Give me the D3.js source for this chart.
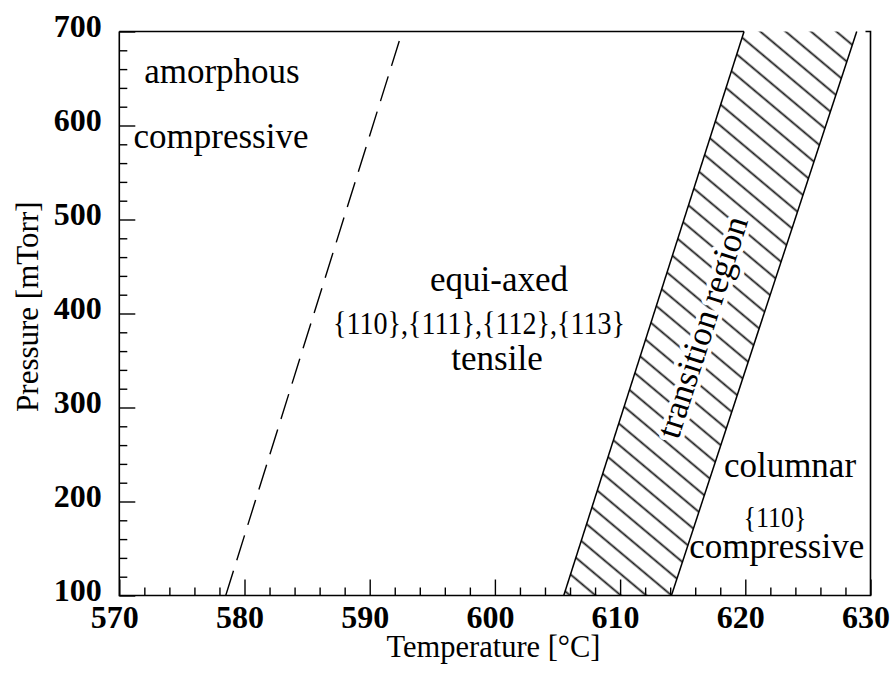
<!DOCTYPE html>
<html>
<head>
<meta charset="utf-8">
<script src="https://cdn.jsdelivr.net/npm/d3@7"></script>
<style>
  body { margin: 0; background: #fff; }
  svg { display: block; }
  text { font-family: "Liberation Serif", "Times New Roman", serif; fill: #000; }
</style>
</head>
<body>
<svg id="chart" width="891" height="691"></svg>
<script>
// Axis ranges and ticks
const temperatureDomain = [570, 630];
const pressureDomain = [100, 700];
const xMajorTicks = [570, 580, 590, 600, 610, 620, 630];
const xMinorTicks = [572, 574, 576, 578, 582, 584, 586, 588, 592, 594, 596, 598,
                     602, 604, 606, 608, 612, 614, 616, 618, 622, 624, 626, 628];
const yMajorTicks = [100, 200, 300, 400, 500, 600, 700];
const yMinorTicks = [120, 140, 160, 180, 220, 240, 260, 280, 320, 340, 360, 380,
                     420, 440, 460, 480, 520, 540, 560, 580, 620, 640, 660, 680];

// Phase boundaries (temperature in °C, pressure in mTorr)
const amorphousBoundary = [{ t: 578.5, p: 100 }, { t: 592.6, p: 700 }];
const transitionLow = [{ t: 605.5, p: 100 }, { t: 619.9, p: 700 }];
const transitionHigh = [{ t: 614.1, p: 100 }, { t: 628.9, p: 700 }];

// Region annotations
const amorphousText = ["amorphous", "compressive"];
const equiaxedText = ["equi-axed", "{110},{111},{112},{113}", "tensile"];
const columnarText = ["columnar", "{110}", "compressive"];
const transitionText = "transition region";

const svg = d3.select("#chart");
const x = d3.scaleLinear().domain(temperatureDomain).range([119.3, 870.5]);
const y = d3.scaleLinear().domain(pressureDomain).range([595.5, 31.5]);
const line = d3.line().x(d => x(d.t)).y(d => y(d.p));

// Hatch pattern for the transition band (lines falling to the right at ~40°)
const hs = 16.3;
const defs = svg.append("defs");
const pat = defs.append("pattern")
  .attr("id", "hatch")
  .attr("patternUnits", "userSpaceOnUse")
  .attr("width", hs).attr("height", hs)
  .attr("patternTransform", "rotate(-50)");
pat.append("rect").attr("width", hs).attr("height", hs).attr("fill", "#fff");
pat.append("line")
  .attr("x1", hs / 2).attr("x2", hs / 2).attr("y1", 0).attr("y2", hs)
  .attr("stroke", "#1a1a1a").attr("stroke-width", 1.8);

// Transition band
const bandPoly = [transitionLow[0], transitionHigh[0], transitionHigh[1], transitionLow[1]];
svg.append("path")
  .attr("d", line(bandPoly) + "Z")
  .attr("fill", "url(#hatch)");

// Label along the transition band, with a white halo over the hatching
const a = transitionLow[0], b = transitionLow[1];
const angle = Math.atan2(y(b.p) - y(a.p), x(b.t) - x(a.t)) * 180 / Math.PI;
svg.append("text")
  .attr("transform", `translate(${x(617.45)},${y(381.8)}) rotate(${angle})`)
  .attr("text-anchor", "middle").style("font-size", "35px")
  .attr("stroke", "#fff").attr("stroke-width", 9).attr("stroke-linejoin", "round")
  .attr("paint-order", "stroke")
  .text(transitionText);

[transitionLow, transitionHigh].forEach(edge => {
  svg.append("path").attr("d", line(edge))
    .attr("fill", "none").attr("stroke", "#000").attr("stroke-width", 1.5);
});

// Amorphous / equi-axed boundary
svg.append("path").attr("d", line(amorphousBoundary))
  .attr("fill", "none").attr("stroke", "#000").attr("stroke-width", 1.4)
  .attr("stroke-dasharray", "26,11");

// Axes
function styleTicks(g) {
  g.select(".domain").remove();
  g.selectAll(".tick line").attr("stroke", "#000").attr("stroke-width", 1.4);
}
const gxMinor = svg.append("g").attr("transform", `translate(0,${y(100)})`)
  .call(d3.axisBottom(x).tickValues(xMinorTicks).tickSize(-8).tickFormat(""));
styleTicks(gxMinor);
const gx = svg.append("g").attr("transform", `translate(0,${y(100)})`)
  .call(d3.axisBottom(x).tickValues(xMajorTicks).tickSize(-16).tickFormat(d3.format("d")));
styleTicks(gx);
gx.selectAll(".tick text")
  .attr("x", -5).attr("y", 32).attr("dy", 0)
  .style("font-family", '"Liberation Serif", serif')
  .style("font-size", "32px").style("font-weight", "bold");

const gyMinor = svg.append("g").attr("transform", `translate(${x(570)},0)`)
  .call(d3.axisLeft(y).tickValues(yMinorTicks).tickSize(-8).tickFormat(""));
styleTicks(gyMinor);
const gy = svg.append("g").attr("transform", `translate(${x(570)},0)`)
  .call(d3.axisLeft(y).tickValues(yMajorTicks).tickSize(-16).tickFormat(d3.format("d")));
styleTicks(gy);
gy.selectAll(".tick text")
  .attr("x", -17.6).attr("dy", 5)
  .style("font-family", '"Liberation Serif", serif')
  .style("font-size", "32px").style("font-weight", "bold");

// Frame (top edge interrupted by the transition band)
const frame = svg.append("g").attr("stroke", "#000").attr("stroke-width", 1.6).attr("fill", "none");
frame.append("path").attr("d", line([{ t: 570, p: 700 }, { t: 570, p: 100 }, { t: 630, p: 100 }, { t: 630, p: 700 }, { t: 629.6, p: 700 }]));
frame.append("path").attr("d", line([{ t: 570, p: 700 }, transitionLow[1]]));

// Region labels
function label(str, t, p, size, width) {
  const el = svg.append("text").attr("x", x(t)).attr("y", y(p))
    .attr("text-anchor", "middle").style("font-size", size + "px").text(str);
  if (width) el.attr("textLength", width).attr("lengthAdjust", "spacingAndGlyphs");
}
label(amorphousText[0], 578.2, 645.7, 35);
label(amorphousText[1], 578.12, 576.2, 35);
label(equiaxedText[0], 600.33, 423.5, 35);
label(equiaxedText[1], 598.73, 378.4, 30.5, 292);
label(equiaxedText[2], 600.17, 340.1, 35);
label(columnarText[0], 623.57, 226.5, 35);
label(columnarText[1], 622.37, 172.5, 30, 63);
label(columnarText[2], 622.51, 139.6, 35);

// Axis titles
svg.append("text").attr("x", 493.5).attr("y", 657)
  .attr("text-anchor", "middle").style("font-size", "32.5px")
  .attr("textLength", 214).attr("lengthAdjust", "spacingAndGlyphs")
  .text("Temperature [°C]");
svg.append("text").attr("transform", "translate(38,306.7) rotate(-90)")
  .attr("text-anchor", "middle").style("font-size", "31px").text("Pressure [mTorr]");
</script>
</body>
</html>
